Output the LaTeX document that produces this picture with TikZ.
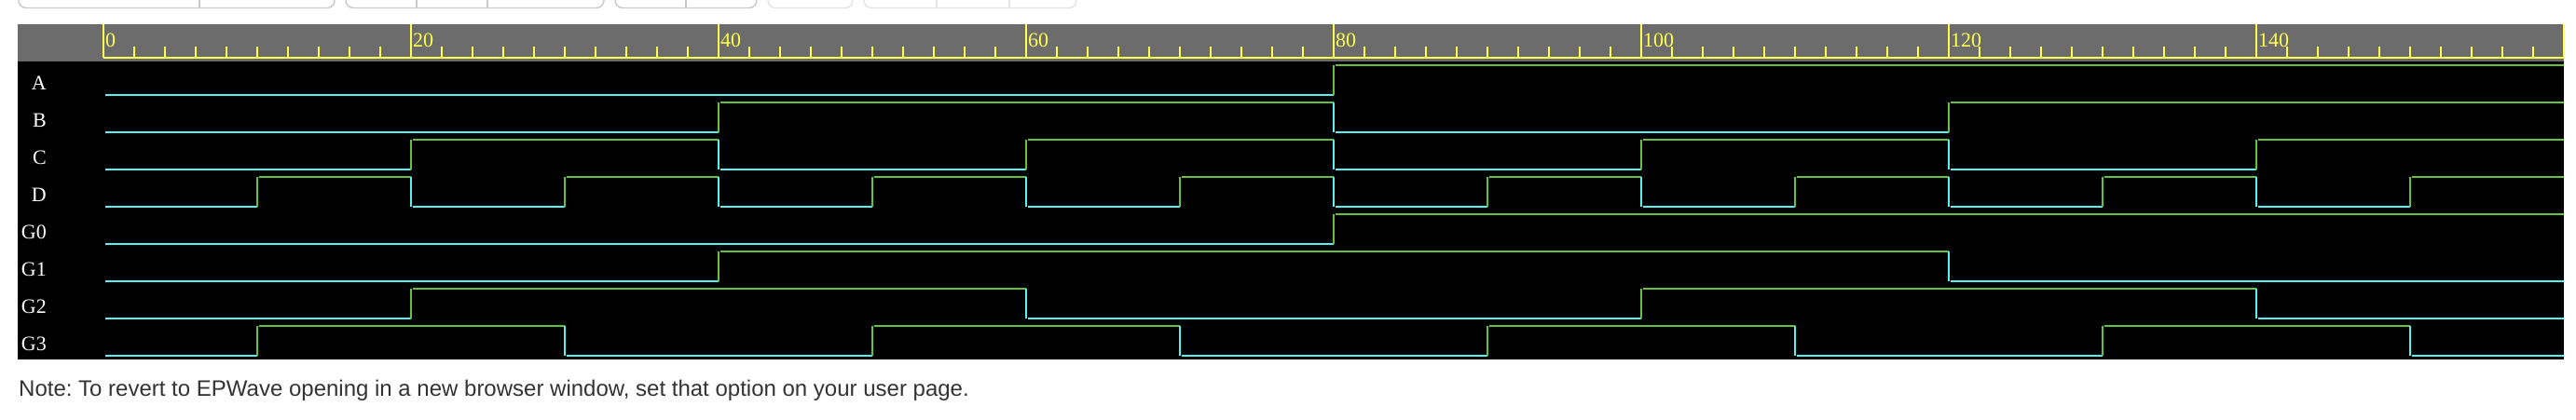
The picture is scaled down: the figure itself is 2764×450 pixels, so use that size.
\documentclass[tikz,border=0pt]{standalone}
\usepackage{fontspec}
\setmainfont{Liberation Serif}
\newfontfamily\notefont{Liberation Sans}
\usepackage{xcolor}
\usepackage{tikz}
\usetikzlibrary{positioning}
\definecolor{hdrgray}{HTML}{6C6C6C}
\definecolor{rulery}{HTML}{FFFF4D}
\definecolor{lowcyan}{HTML}{55F2F2}
\definecolor{highgreen}{HTML}{62C23C}
\definecolor{btnline}{HTML}{C9C9C9}
\definecolor{btnfaint}{HTML}{E3E3E3}
\definecolor{notegray}{HTML}{333333}
\tikzstyle{signame} = [anchor=base east, inner sep=0pt, text=white, font=\fontsize{22}{24}\selectfont]
\tikzstyle{ticklabel} = [anchor=base west, inner sep=0pt, text=rulery, font=\fontsize{22}{24}\selectfont]
\tikzstyle{rulertick} = [rulery, line width=1.7pt]
\tikzstyle{wave} = [line width=1.6pt]
\tikzstyle{button} = [line width=1.4pt, rounded corners=8pt]
\tikzstyle{notetext} = [anchor=base west, inner sep=0pt, text=notegray, font=\notefont\fontsize{24}{28}\selectfont\frenchspacing]

\begin{document}
\begin{tikzpicture}[x=1pt,y=-1pt]
  \useasboundingbox[fill=white] (0,0) rectangle (2764,450);

  % toolbar buttons, cut off at the top edge
  \foreach \xa/\xb/\col in {20/359/btnline, 371/648/btnline, 660/812/btnline, 824/915/btnfaint, 927/1155/btnfaint}
    \draw[button, \col] (\xa,-2) -- (\xa,8.5) -- (\xb,8.5) -- (\xb,-2);
  \foreach \xd/\col in {214/btnline, 447/btnline, 523/btnline, 736/btnline, 1005/btnfaint, 1083/btnfaint}
    \draw[\col, line width=1.4pt] (\xd,-2) -- (\xd,8.5);

  % header and wave area
  \fill[hdrgray] (19,26) rectangle (2751,66);
  \fill[black] (19,66) rectangle (2751,386);

  % time ruler
  \draw[rulertick] (111,62) -- (2751,62);
  \foreach \t in {2,4,...,158}
    \draw[rulertick] ({111+16.5*\t},50) -- ({111+16.5*\t},62);
  \foreach \t in {0,20,...,160}
    \draw[rulertick] ({111+16.5*\t},26) -- ({111+16.5*\t},62);
  \foreach \t in {0,20,...,140}
    \node[ticklabel] (t\t) at ({111+16.5*\t+2},50) {\t};

  % signals: name/row/{start/end/level,...}
  \foreach \sig/\r/\segs in {
      A/0/{0/80/0,80/160/1},
      B/1/{0/40/0,40/80/1,80/120/0,120/160/1},
      C/2/{0/20/0,20/40/1,40/60/0,60/80/1,80/100/0,100/120/1,120/140/0,140/160/1},
      D/3/{0/10/0,10/20/1,20/30/0,30/40/1,40/50/0,50/60/1,60/70/0,70/80/1,80/90/0,90/100/1,100/110/0,110/120/1,120/130/0,130/140/1,140/150/0,150/160/1},
      G0/4/{0/80/0,80/160/1},
      G1/5/{0/40/0,40/120/1,120/160/0},
      G2/6/{0/20/0,20/60/1,60/100/0,100/140/1,140/160/0},
      G3/7/{0/10/0,10/30/1,30/50/0,50/70/1,70/90/0,90/110/1,110/130/0,130/150/1,150/160/0}} {
    \node[signame] (lbl\sig) at (50,{96+40*\r}) {\sig};
    \foreach \ta/\tb/\v in \segs {
      \ifnum\v=1 \def\wcol{highgreen}\else\def\wcol{lowcyan}\fi
      \draw[wave, color=\wcol] ({111+16.5*\ta+1.5},{102+40*\r-32*\v}) -- ({111+16.5*\tb},{102+40*\r-32*\v});
      \ifnum\ta>0
        \draw[wave, color=\wcol] ({111+16.5*\ta},{102+40*\r}) -- ({111+16.5*\ta},{70+40*\r});
      \fi
    }
  }

  \node[notetext] (note) at (20,425) {Note: To revert to EPWave opening in a new browser window, set that option on your user page.};
\end{tikzpicture}
\end{document}
